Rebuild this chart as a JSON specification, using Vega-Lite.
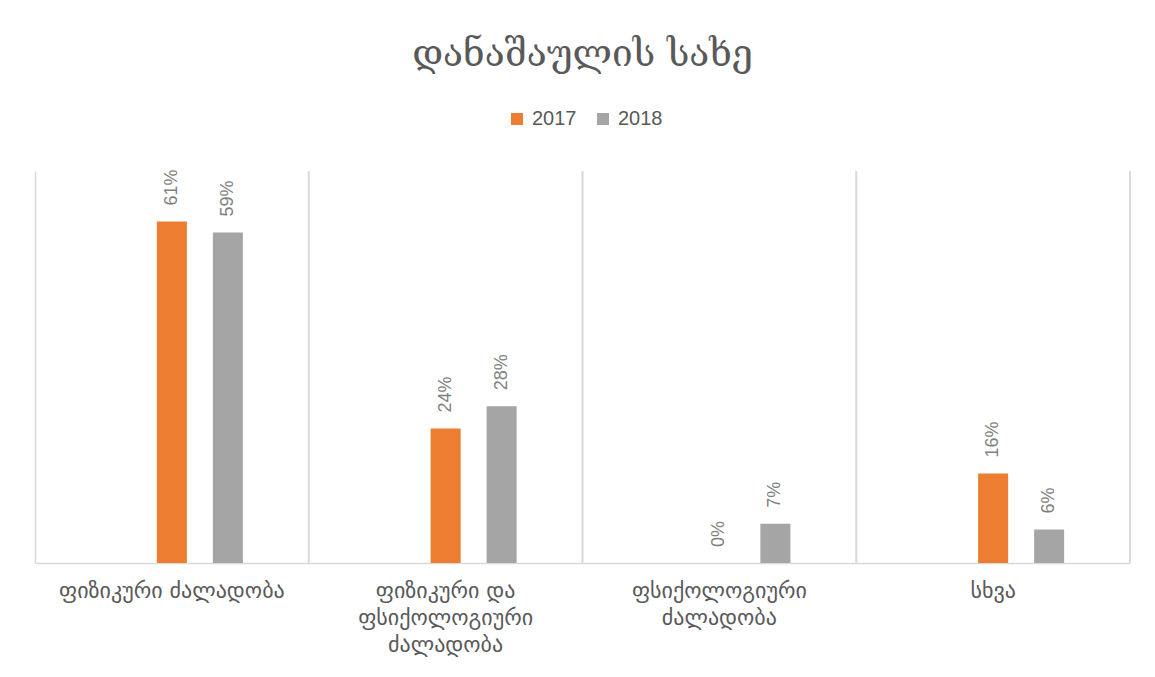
{
  "$schema": "https://vega.github.io/schema/vega-lite/v6.json",
  "width": 1095,
  "height": 392,
  "autosize": {"type": "none"},
  "padding": {"left": 35, "top": 171, "right": 25, "bottom": 114},
  "background": "white",
  "config": {"view": {"stroke": null}},
  "title": {
    "text": "დანაშაულის სახე",
    "font": "DejaVu Serif",
    "fontSize": 37,
    "fontWeight": "normal",
    "color": "#595959",
    "anchor": "middle",
    "baseline": "alphabetic",
    "offset": 6
  },
  "data": {
    "values": [
      {"cat": "ფიზიკური ძალადობა", "year": "2017", "value": 0.61},
      {"cat": "ფიზიკური ძალადობა", "year": "2018", "value": 0.59},
      {"cat": "ფიზიკური და|ფსიქოლოგიური|ძალადობა", "year": "2017", "value": 0.24},
      {"cat": "ფიზიკური და|ფსიქოლოგიური|ძალადობა", "year": "2018", "value": 0.28},
      {"cat": "ფსიქოლოგიური|ძალადობა", "year": "2017", "value": 0.0},
      {"cat": "ფსიქოლოგიური|ძალადობა", "year": "2018", "value": 0.07},
      {"cat": "სხვა", "year": "2017", "value": 0.16},
      {"cat": "სხვა", "year": "2018", "value": 0.06}
    ]
  },
  "encoding": {
    "x": {
      "field": "cat",
      "type": "nominal",
      "sort": null,
      "scale": {"paddingInner": 0, "paddingOuter": 0},
      "axis": {
        "title": null,
        "bandPosition": 0,
        "grid": true,
        "gridColor": "#d9d9d9",
        "gridWidth": 1.5,
        "ticks": false,
        "domainColor": "#d9d9d9",
        "domainWidth": 1.5,
        "labelAngle": 0,
        "labelFont": "DejaVu Sans",
        "labelFontSize": 22,
        "labelColor": "#595959",
        "labelPadding": 17,
        "labelLineHeight": 27,
        "labelBaseline": "top",
        "labelLimit": 0,
        "labelOverlap": false,
        "labelExpr": "split(datum.label, '|')"
      }
    }
  },
  "layer": [
    {
      "mark": {"type": "bar"},
      "encoding": {
        "xOffset": {
          "field": "year",
          "type": "nominal",
          "scale": {"domain": ["a", "b", "2017", "2018", "c"], "paddingInner": 0.464, "paddingOuter": 0.176}
        },
        "y": {"field": "value", "type": "quantitative", "scale": {"domain": [0, 0.7]}, "axis": null},
        "color": {
          "field": "year",
          "type": "nominal",
          "scale": {"domain": ["2017", "2018"], "range": ["#ED7D31", "#A5A5A5"]},
          "legend": {
            "title": null,
            "orient": "none",
            "direction": "horizontal",
            "legendX": 472,
            "legendY": -62,
            "symbolType": "square",
            "symbolSize": 144,
            "symbolStrokeWidth": 0,
            "labelFont": "Liberation Sans",
            "labelFontSize": 20,
            "labelColor": "#595959",
            "labelOffset": 5,
            "columnPadding": 16
          }
        }
      }
    },
    {
      "mark": {"type": "text", "angle": -90, "align": "left", "baseline": "middle", "dx": 16, "font": "Liberation Sans", "fontSize": 18, "color": "#7f7f7f"},
      "encoding": {
        "xOffset": {
          "field": "year",
          "type": "nominal",
          "scale": {"domain": ["a", "b", "2017", "2018", "c"], "paddingInner": 0.464, "paddingOuter": 0.176}
        },
        "y": {"field": "value", "type": "quantitative"},
        "text": {"field": "value", "type": "quantitative", "format": ".0%"}
      }
    },
    {
      "mark": {"type": "rule", "color": "#d9d9d9", "strokeWidth": 1.5},
      "encoding": {
        "x": {"field": "cat", "type": "nominal", "sort": null, "bandPosition": 1}
      }
    }
  ]
}
